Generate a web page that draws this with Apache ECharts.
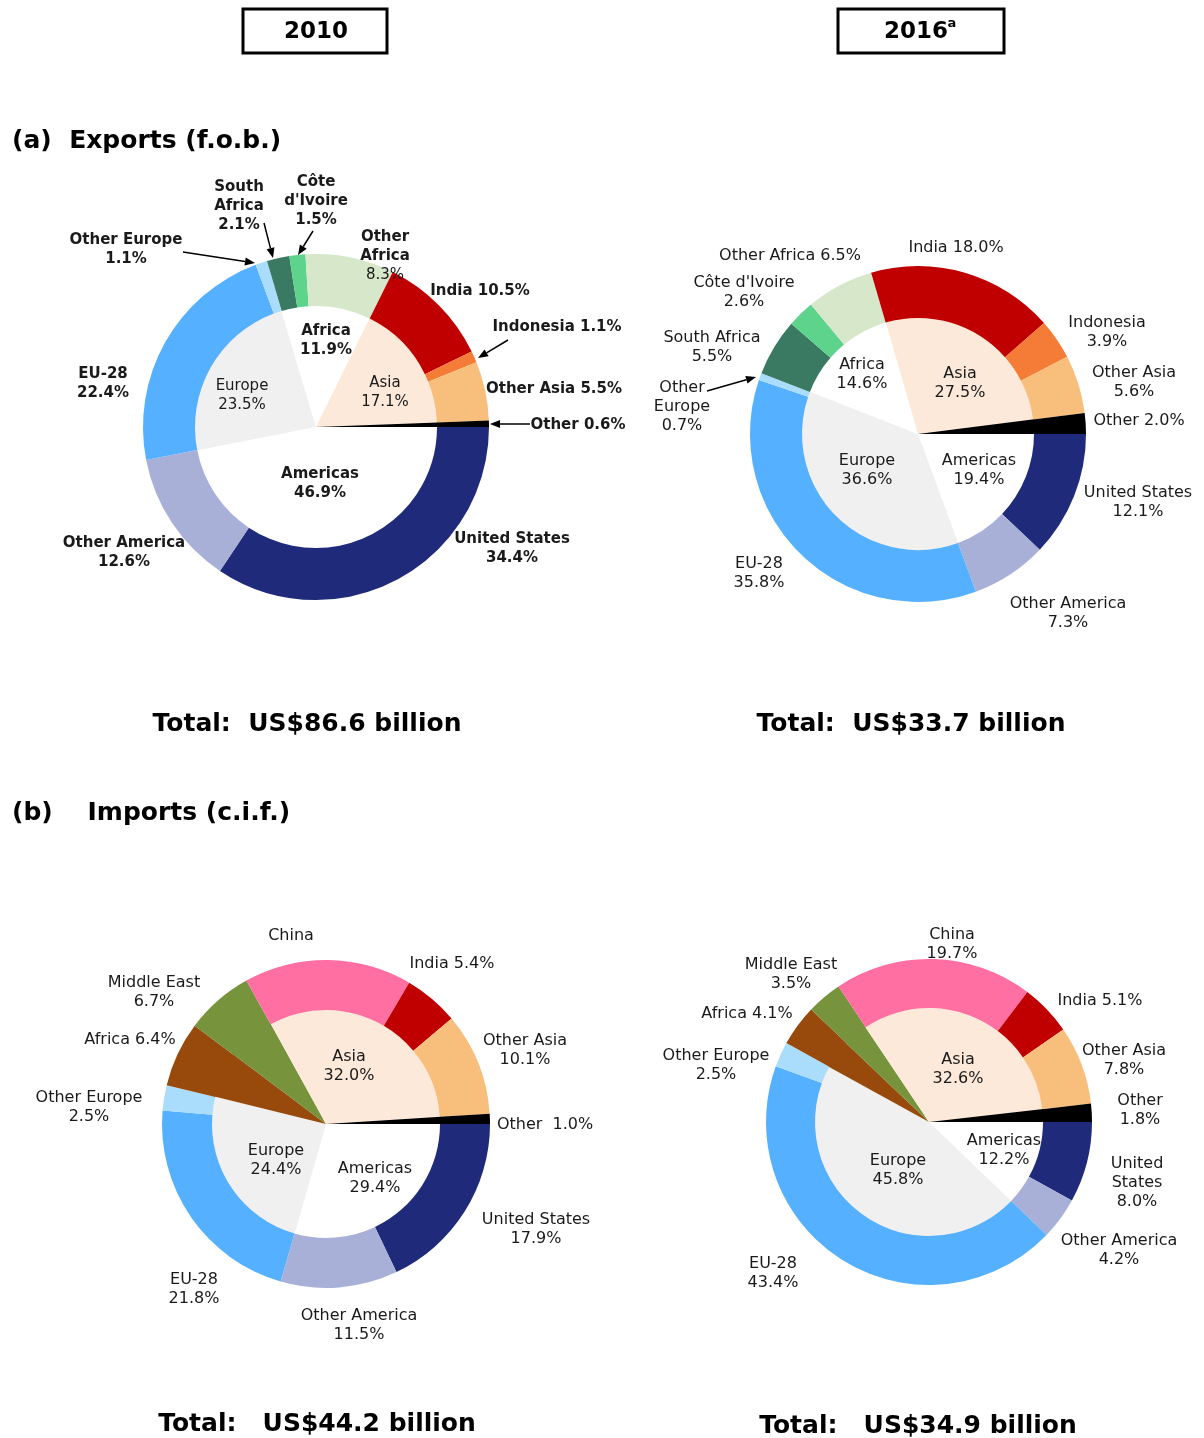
<!DOCTYPE html>
<html>
<head>
<meta charset="utf-8">
<script src="https://cdn.jsdelivr.net/npm/echarts@6/dist/echarts.min.js"></script>
<style>
html,body{margin:0;padding:0;background:#fff;}
#main{width:1204px;height:1438px;}
</style>
</head>
<body>
<div id="main"></div>
<script>
// 出口 (f.o.b.) 2010 / 2016
var expRing = ['United States', 'Other America', 'EU-28', 'Other Europe', 'South Africa', "Côte d'Ivoire", 'Other Africa', 'India', 'Indonesia', 'Other Asia', 'Other'];
var exp2010RingVal = [34.4, 12.6, 22.4, 1.1, 2.1, 1.5, 8.3, 10.5, 1.1, 5.5, 0.6];
var exp2016RingVal = [12.1, 7.3, 35.8, 0.7, 5.5, 2.6, 6.5, 18.0, 3.9, 5.6, 2.0];
var expCore = ['Americas', 'Europe', 'Africa', 'Asia', 'Other'];
var exp2010CoreVal = [46.9, 23.5, 11.9, 17.1, 0.6];
var exp2016CoreVal = [19.4, 36.6, 14.6, 27.5, 2.0];
// 进口 (c.i.f.) 2010 / 2016
var impRing = ['United States', 'Other America', 'EU-28', 'Other Europe', 'Africa', 'Middle East', 'China', 'India', 'Other Asia', 'Other'];
var imp2010RingVal = [17.9, 11.5, 21.8, 2.5, 6.4, 6.7, 16.5, 5.4, 10.1, 1.0];
var imp2016RingVal = [8.0, 4.2, 43.4, 2.5, 4.1, 3.5, 19.7, 5.1, 7.8, 1.8];
var impCore = ['Americas', 'Europe', 'Africa', 'Middle East', 'Asia', 'Other'];
var imp2010CoreVal = [29.4, 24.4, 6.4, 6.7, 32.0, 1.0];
var imp2016CoreVal = [12.2, 45.8, 4.1, 3.5, 32.6, 1.8];
var totals = ['US$86.6 billion', 'US$33.7 billion', 'US$44.2 billion', 'US$34.9 billion'];

var FONT = 'DejaVu Sans';
var TXT = '#1a1a1a';

// 外环颜色
var ringColors = {
  'United States': '#1f2a7b', 'Other America': '#a8b0d8', 'EU-28': '#55b0ff', 'Other Europe': '#aadcfb',
  'South Africa': '#3a7a62', "Côte d'Ivoire": '#5ed38b', 'Other Africa': '#d6e8c9',
  'India': '#c00000', 'Indonesia': '#f57c36', 'Other Asia': '#f8be7c', 'Other': '#000000',
  'China': '#ff6fa1', 'Middle East': '#77933c', 'Africa': '#974a0b'
};
var expCoreColors = {'Americas': '#ffffff', 'Europe': '#f0f0f0', 'Africa': '#ffffff', 'Asia': '#fde9d9', 'Other': '#000000'};
var impCoreColors = {'Americas': '#ffffff', 'Europe': '#f0f0f0', 'Africa': '#974a0b', 'Middle East': '#77933c', 'Asia': '#fde9d9', 'Other': '#000000'};

// 标签位置: [dx, dy, 文字模板]  (相对饼图中心)
var labA = {
  'United States': [196, 122, 'United States\n%v'],
  'Other America': [-192, 126, 'Other America\n%v'],
  'EU-28': [-213, -43, 'EU-28\n%v'],
  'Other Europe': [-190, -177, 'Other Europe\n%v'],
  'South Africa': [-77, -221, 'South\nAfrica\n%v'],
  "Côte d'Ivoire": [0, -226, "Côte\nd'Ivoire\n%v"],
  'Other Africa': [69, -171, 'Other\nAfrica\n{n|%v}'],
  'India': [164, -136, 'India %v'],
  'Indonesia': [241, -100, 'Indonesia %v'],
  'Other Asia': [238, -38, 'Other Asia %v'],
  'Other': [262, -2, 'Other %v']
};
var labACore = {
  'Americas': [4, 57, 'Americas\n%v'],
  'Europe': [-74, -31, '{n|Europe\n%v}'],
  'Africa': [10, -86, 'Africa\n%v'],
  'Asia': [69, -34, '{n|Asia\n%v}']
};
var labB = {
  'United States': [220, 68, 'United States\n%v'],
  'Other America': [150, 179, 'Other America\n%v'],
  'EU-28': [-159, 139, 'EU-28\n%v'],
  'Other Europe': [-236, -27, 'Other\nEurope\n%v'],
  'South Africa': [-206, -87, 'South Africa\n%v'],
  "Côte d'Ivoire": [-174, -142, "Côte d'Ivoire\n%v"],
  'Other Africa': [-128, -178, 'Other Africa %v'],
  'India': [38, -186, 'India %v'],
  'Indonesia': [189, -102, 'Indonesia\n%v'],
  'Other Asia': [216, -52, 'Other Asia\n%v'],
  'Other': [221, -13, 'Other %v']
};
var labBCore = {
  'Americas': [61, 36, 'Americas\n%v'],
  'Europe': [-51, 36, 'Europe\n%v'],
  'Africa': [-56, -60, 'Africa\n%v'],
  'Asia': [42, -51, 'Asia\n%v']
};
var labC = {
  'United States': [210, 105, 'United States\n%v'],
  'Other America': [33, 201, 'Other America\n%v'],
  'EU-28': [-132, 165, 'EU-28\n%v'],
  'Other Europe': [-237, -17, 'Other Europe\n%v'],
  'Africa': [-196, -84, 'Africa %v'],
  'Middle East': [-172, -132, 'Middle East\n%v'],
  'China': [-35, -188, 'China'],
  'India': [126, -160, 'India %v'],
  'Other Asia': [199, -74, 'Other Asia\n%v'],
  'Other': [219, 1, 'Other  %v']
};
var labCCore = {
  'Asia': [23, -58, 'Asia\n%v'],
  'Europe': [-50, 36, 'Europe\n%v'],
  'Americas': [49, 54, 'Americas\n%v']
};
var labD = {
  'United States': [208, 61, 'United\nStates\n%v'],
  'Other America': [190, 128, 'Other America\n%v'],
  'EU-28': [-156, 151, 'EU-28\n%v'],
  'Other Europe': [-213, -57, 'Other Europe\n%v'],
  'Africa': [-182, -108, 'Africa %v'],
  'Middle East': [-138, -148, 'Middle East\n%v'],
  'China': [23, -178, 'China\n%v'],
  'India': [171, -121, 'India %v'],
  'Other Asia': [195, -62, 'Other Asia\n%v'],
  'Other': [211, -12, 'Other\n%v']
};
var labDCore = {
  'Asia': [29, -53, 'Asia\n%v'],
  'Europe': [-31, 48, 'Europe\n%v'],
  'Americas': [75, 28, 'Americas\n%v']
};

function pieSeries(center, radius, names, vals, colors, labels, bold) {
  var size = bold ? 15 : 16;
  return {
    type: 'pie',
    center: center,
    radius: radius,
    startAngle: 0,
    clockwise: true,
    silent: true,
    animation: false,
    avoidLabelOverlap: false,
    emphasis: {disabled: true},
    itemStyle: {borderWidth: 0},
    labelLine: {show: false},
    label: {
      show: true,
      position: 'inside',
      fontFamily: FONT,
      fontSize: size,
      fontWeight: bold ? 'bold' : 'normal',
      lineHeight: 19,
      color: TXT,
      formatter: function (p) {
        var s = labels[p.name];
        return s ? s[2].replace('%v', p.value.toFixed(1) + '%') : '';
      },
      rich: {
        n: {fontFamily: FONT, fontSize: size, fontWeight: 'normal', lineHeight: 19, color: TXT}
      }
    },
    labelLayout: function (p) {
      var s = labels[names[p.dataIndex]];
      if (!s) return {};
      return {x: center[0] + s[0], y: center[1] + s[1], align: 'center', verticalAlign: 'middle'};
    },
    data: names.map(function (n, i) {
      return {name: n, value: vals[i], itemStyle: {color: colors[n]}, label: {show: !!labels[n]}};
    })
  };
}

// 箭头
function arrow(x1, y1, x2, y2) {
  var a = Math.atan2(y2 - y1, x2 - x1), L = 10, W = 4;
  var bx = x2 - L * Math.cos(a), by = y2 - L * Math.sin(a);
  return [
    {type: 'line', silent: true, shape: {x1: x1, y1: y1, x2: bx, y2: by}, style: {stroke: '#000', lineWidth: 1.5}, z: 10},
    {type: 'polygon', silent: true, z: 10, shape: {points: [[x2, y2],
      [bx + W * Math.sin(a), by - W * Math.cos(a)], [bx - W * Math.sin(a), by + W * Math.cos(a)]]},
      style: {fill: '#000'}}
  ];
}

function txt(x, y, text, size, align, weight) {
  return {type: 'text', x: x, y: y, silent: true, style: {text: text, fill: '#000',
    fontFamily: FONT, fontSize: size, fontWeight: weight || 'bold', align: align || 'center', verticalAlign: 'middle'}};
}

var cA = [316, 427], cB = [918, 434], cC = [326, 1124], cD = [929, 1122];

var graphics = [
  {type: 'rect', shape: {x: 243, y: 9, width: 144, height: 44}, style: {fill: '#fff', stroke: '#000', lineWidth: 3}},
  {type: 'rect', shape: {x: 838, y: 9, width: 166, height: 44}, style: {fill: '#fff', stroke: '#000', lineWidth: 3}},
  txt(316, 32, '2010', 23),
  txt(916, 32, '2016', 23),
  txt(952, 24, 'a', 13),
  txt(12, 141, '(a)  Exports (f.o.b.)', 25, 'left'),
  txt(12, 813, '(b)    Imports (c.i.f.)', 25, 'left'),
  txt(307, 724, 'Total:  ' + totals[0], 25),
  txt(911, 724, 'Total:  ' + totals[1], 25),
  txt(317, 1424, 'Total:   ' + totals[2], 25),
  txt(918, 1426, 'Total:   ' + totals[3], 25)
];
graphics = graphics
  .concat(arrow(183, 252, 255, 263))
  .concat(arrow(264, 223, 273, 258))
  .concat(arrow(313, 231, 298, 255))
  .concat(arrow(508, 340, 478, 358))
  .concat(arrow(530, 424, 490, 424))
  .concat(arrow(707, 391, 756, 377));

var chart = echarts.init(document.getElementById('main'));
chart.setOption({
  backgroundColor: '#fff',
  animation: false,
  graphic: graphics,
  series: [
    pieSeries(cA, [0, 122], expCore, exp2010CoreVal, expCoreColors, labACore, true),
    pieSeries(cA, [121, 173], expRing, exp2010RingVal, ringColors, labA, true),
    pieSeries(cB, [0, 117], expCore, exp2016CoreVal, expCoreColors, labBCore, false),
    pieSeries(cB, [116, 168], expRing, exp2016RingVal, ringColors, labB, false),
    pieSeries(cC, [0, 115], impCore, imp2010CoreVal, impCoreColors, labCCore, false),
    pieSeries(cC, [114, 164], impRing, imp2010RingVal, ringColors, labC, false),
    pieSeries(cD, [0, 115], impCore, imp2016CoreVal, impCoreColors, labDCore, false),
    pieSeries(cD, [114, 163], impRing, imp2016RingVal, ringColors, labD, false)
  ]
});
</script>
</body>
</html>
